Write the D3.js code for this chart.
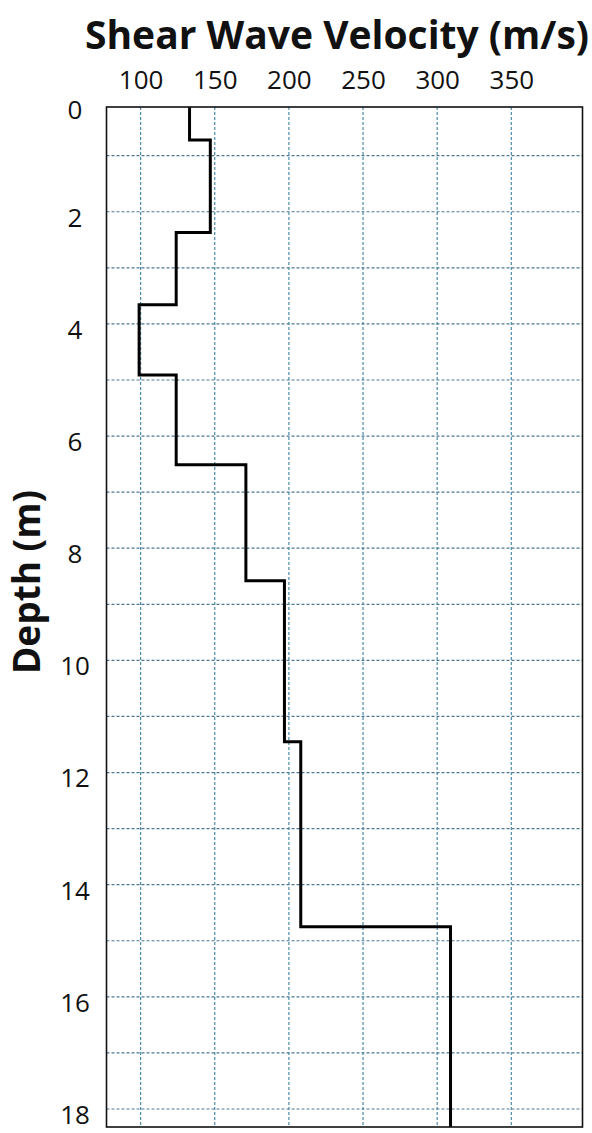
<!DOCTYPE html>
<html>
<head>
<meta charset="utf-8">
<script src="https://cdn.jsdelivr.net/npm/d3@7"></script>
<style>
  body { margin: 0; background: #fff; }
  text { font-family: "Open Sans", sans-serif; fill: #111; }
</style>
</head>
<body>
<div id="chart"></div>
<script>
// Velocity profile: one value per layer, and the layer boundaries (depth, m)
const velocities = [133, 147, 124, 99, 124, 171, 197, 208, 309];
const boundaries = [0, 0.72, 2.37, 3.66, 4.91, 6.51, 8.58, 11.45, 14.75, 18.32];

// Tick labels / grid
const xTicks = [100, 150, 200, 250, 300, 350];
const yTicks = [0, 2, 4, 6, 8, 10, 12, 14, 16, 18];
const yGrid = d3.range(1, 19);

const W = 592, H = 1133;
const plot = { left: 106.5, right: 582.5, top: 107, bottom: 1127 };

const svg = d3.select("#chart")
    .append("svg")
    .attr("width", W)
    .attr("height", H);

// Scales
const xScale = d3.scaleLinear().domain([77, 398]).range([plot.left, plot.right]);
const yScale = d3.scaleLinear().domain([0, 18]).range([99.6, 1109]);

// clip for the plot area
svg.append("clipPath")
    .attr("id", "clip")
    .append("rect")
    .attr("x", plot.left)
    .attr("y", plot.top)
    .attr("width", plot.right - plot.left)
    .attr("height", plot.bottom - plot.top);

// Grid lines (dashed)
const grid = svg.append("g").attr("clip-path", "url(#clip)");

grid.selectAll(".hgrid")
    .data(yGrid)
    .join("line")
    .attr("x1", plot.left)
    .attr("x2", plot.right)
    .attr("y1", d => yScale(d))
    .attr("y2", d => yScale(d))
    .style("stroke", "#4c7893")
    .style("stroke-width", 1.2)
    .style("stroke-dasharray", "3,2");

grid.selectAll(".vgrid")
    .data(xTicks)
    .join("line")
    .attr("x1", d => xScale(d))
    .attr("x2", d => xScale(d))
    .attr("y1", plot.top)
    .attr("y2", plot.bottom)
    .style("stroke", "#4c8aa5")
    .style("stroke-width", 1.2)
    .style("stroke-dasharray", "3,2");

// Step profile
const points = [];
velocities.forEach((v, i) => {
    points.push({ v: v, d: boundaries[i] });
    points.push({ v: v, d: boundaries[i + 1] });
});

const line = d3.line()
    .x(d => xScale(d.v))
    .y(d => yScale(d.d));

svg.append("path")
    .datum(points)
    .attr("clip-path", "url(#clip)")
    .attr("d", line)
    .style("fill", "none")
    .style("stroke", "#000")
    .style("stroke-width", 3);

// Frame
svg.append("rect")
    .attr("x", plot.left)
    .attr("y", plot.top)
    .attr("width", plot.right - plot.left)
    .attr("height", plot.bottom - plot.top)
    .style("fill", "none")
    .style("stroke", "#111")
    .style("stroke-width", 1.6);

// Top axis labels
const xAxis = d3.axisTop(xScale).tickValues(xTicks).tickSize(0).tickPadding(0);
const gx = svg.append("g")
    .attr("transform", `translate(0,89)`)
    .call(xAxis);
gx.select(".domain").remove();
gx.selectAll("text")
    .attr("dy", 0)
    .style("font-family", "'Open Sans', sans-serif")
    .style("font-size", "26px")
    .style("fill", "#111");

// Left axis labels
const yAxis = d3.axisLeft(yScale).tickValues(yTicks).tickSize(0);
const gy = svg.append("g")
    .attr("transform", `translate(${plot.left},0)`)
    .call(yAxis);
gy.select(".domain").remove();
gy.selectAll("text")
    .attr("x", 75 - plot.left)
    .attr("dy", "0.36em")
    .attr("transform", d => `translate(0,${d === 0 ? 10 : 5})`)
    .style("text-anchor", "middle")
    .style("font-family", "'Open Sans', sans-serif")
    .style("font-size", "26px")
    .style("fill", "#111");

// Titles
svg.append("text")
    .attr("x", 337)
    .attr("y", 49)
    .style("text-anchor", "middle")
    .style("font-weight", "bold")
    .style("font-size", "39px")
    .text("Shear Wave Velocity (m/s)");

svg.append("text")
    .attr("transform", "translate(40,582) rotate(-90)")
    .style("text-anchor", "middle")
    .style("font-weight", "bold")
    .style("font-size", "37px")
    .text("Depth (m)");
</script>
</body>
</html>
